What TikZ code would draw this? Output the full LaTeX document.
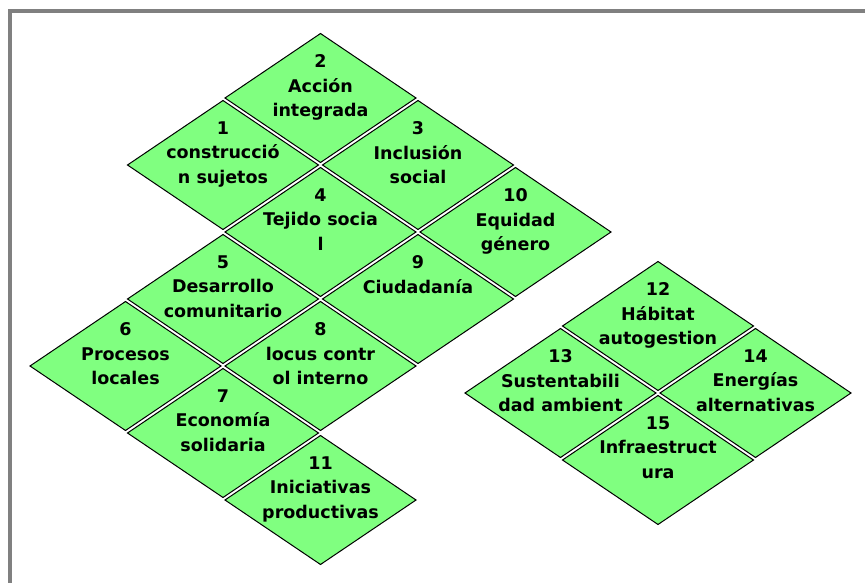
\documentclass[tikz,border=0pt]{standalone}
\usepackage{fontspec}
\setmainfont{DejaVu Sans}
\usetikzlibrary{shapes.geometric}
\definecolor{tilegreen}{RGB}{128,255,128}
\definecolor{framegray}{RGB}{128,128,128}
\begin{document}
\begin{tikzpicture}[x=1pt,y=-1pt,
  tile/.style={diamond, draw=black, fill=tilegreen, line width=1pt,
    minimum width=191pt, minimum height=129pt, inner sep=0pt, outer sep=0pt},
  lbl/.style={anchor=north, align=center, inner sep=0pt,
    font=\fontsize{17.5}{24.5}\selectfont\bfseries}]
\useasboundingbox (0,0) rectangle (865,583);
\fill[white] (0,0) rectangle (865,583);
\draw[framegray, line width=4pt] (10.3,583) -- (10.3,10.8) -- (865,10.8);
% left cluster
\node[tile] (t1) at (223,165) {};
\node[tile] (t2) at (320.5,98) {};
\node[tile] (t3) at (418,165) {};
\node[tile] (t4) at (320.5,232) {};
\node[tile] (t10) at (515.5,232) {};
\node[tile] (t9) at (418,299) {};
\node[tile] (t5) at (223,299) {};
\node[tile] (t8) at (320.5,366) {};
\node[tile] (t6) at (125.5,366) {};
\node[tile] (t7) at (223,433) {};
\node[tile] (t11) at (320.5,500) {};
% right cluster
\node[tile] (t12) at (658,326) {};
\node[tile] (t13) at (560.5,393) {};
\node[tile] (t14) at (755.5,393) {};
\node[tile] (t15) at (658,460) {};
% labels
\node[lbl] (l1) at ([yshift=43.5pt]t1.center) {1\\construcció\\n sujetos};
\node[lbl] (l2) at ([yshift=43.5pt]t2.center) {2\\Acción\\integrada};
\node[lbl] (l3) at ([yshift=43.5pt]t3.center) {3\\Inclusión\\social};
\node[lbl] (l4) at ([yshift=43.5pt]t4.center) {4\\Tejido socia\\l};
\node[lbl] (l5) at ([yshift=43.5pt]t5.center) {5\\Desarrollo\\comunitario};
\node[lbl] (l6) at ([yshift=43.5pt]t6.center) {6\\Procesos\\locales};
\node[lbl] (l7) at ([yshift=43.5pt]t7.center) {7\\Economía\\solidaria};
\node[lbl] (l8) at ([yshift=43.5pt]t8.center) {8\\locus contr\\ol interno};
\node[lbl] (l9) at ([yshift=43.5pt]t9.center) {9\\Ciudadanía};
\node[lbl] (l10) at ([yshift=43.5pt]t10.center) {10\\Equidad\\género};
\node[lbl] (l11) at ([yshift=43.5pt]t11.center) {11\\Iniciativas\\productivas};
\node[lbl] (l12) at ([yshift=43.5pt]t12.center) {12\\Hábitat\\autogestion};
\node[lbl] (l13) at ([yshift=43.5pt]t13.center) {13\\Sustentabili\\dad ambient};
\node[lbl] (l14) at ([yshift=43.5pt]t14.center) {14\\Energías\\alternativas};
\node[lbl] (l15) at ([yshift=43.5pt]t15.center) {15\\Infraestruct\\ura};
\end{tikzpicture}
\end{document}
